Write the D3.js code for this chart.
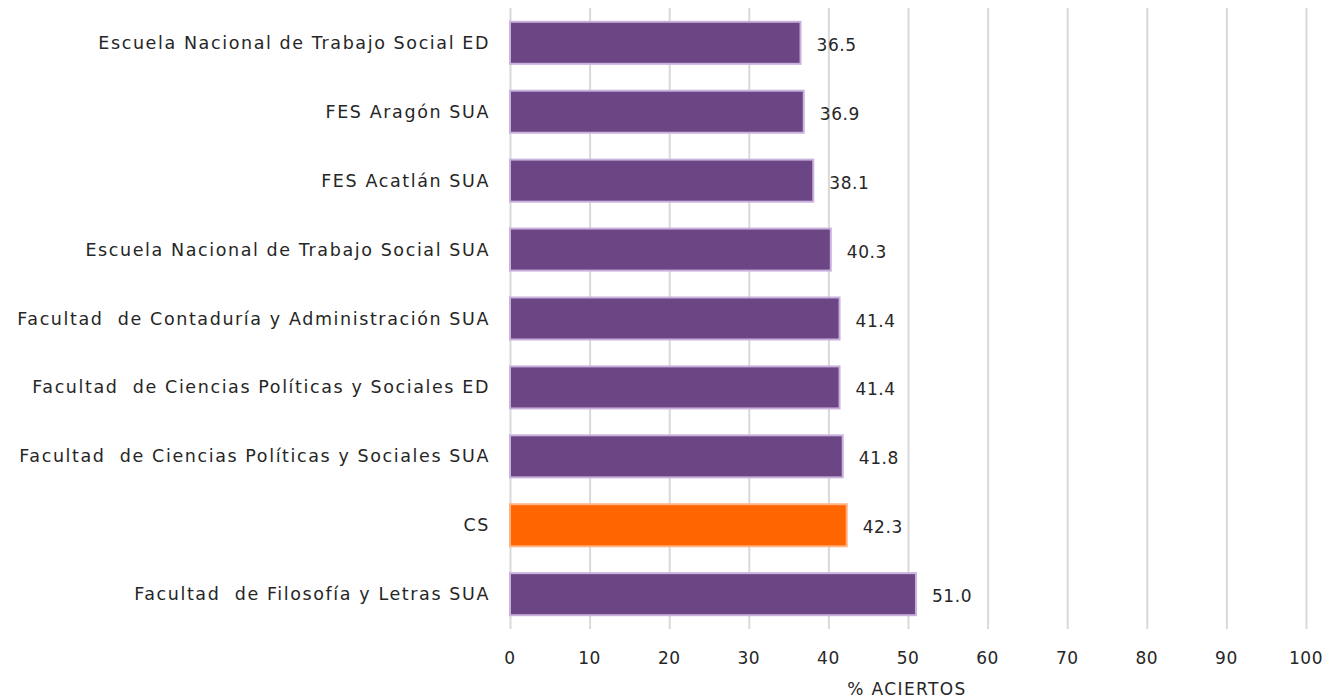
<!DOCTYPE html>
<html><head><meta charset="utf-8">
<script src="https://cdn.jsdelivr.net/npm/d3@7"></script>
<style>body{margin:0;background:#fff}text{font-family:"DejaVu Sans",sans-serif;fill:#262626}</style>
</head><body><svg id="c" width="1338" height="700"></svg>
<script>
const categories=["Escuela Nacional de Trabajo Social ED","FES Aragón SUA","FES Acatlán SUA","Escuela Nacional de Trabajo Social SUA","Facultad  de Contaduría y Administración SUA","Facultad  de Ciencias Políticas y Sociales ED","Facultad  de Ciencias Políticas y Sociales SUA","CS","Facultad  de Filosofía y Letras SUA"];
const values=[36.5,36.9,38.1,40.3,41.4,41.4,41.8,42.3,51.0];
const highlight=["CS"];
const ticks=[0,10,20,30,40,50,60,70,80,90,100];
const axisTitle="% ACIERTOS";

const svg=d3.select("#c");
const x=d3.scaleLinear().domain([0,100]).range([510,1306]);
const y=d3.scaleBand().domain(categories).range([8,629]).paddingInner(0.39).paddingOuter(0.2);

svg.append("g").selectAll("line").data(ticks).join("line")
 .attr("x1",d=>x(d)+0.5).attr("x2",d=>x(d)+0.5).attr("y1",8).attr("y2",629)
 .attr("stroke","#d9d9d9").attr("stroke-width",2);

svg.append("g").selectAll("rect").data(values).join("rect")
 .attr("x",x(0)).attr("y",(d,i)=>y(categories[i]))
 .attr("width",d=>x(d)-x(0)).attr("height",y.bandwidth())
 .attr("fill",(d,i)=>highlight.includes(categories[i])?"#ff6600":"#6b4584")
 .attr("stroke",(d,i)=>highlight.includes(categories[i])?"#ffb27f":"#c9b1dd")
 .attr("stroke-width",2);

svg.append("g").selectAll("text").data(values).join("text")
 .attr("x",d=>x(d)+16).attr("y",(d,i)=>y(categories[i])+y.bandwidth()/2+8)
 .attr("font-size",17).attr("letter-spacing",0.6).text(d=>d.toFixed(1));

svg.append("g").selectAll("text").data(categories).join("text")
 .attr("x",490).attr("y",d=>y(d)+y.bandwidth()/2+6)
 .attr("text-anchor","end")
 .attr("font-size",17.5).attr("letter-spacing",1.6).style("white-space","pre").text(d=>d);

svg.append("g").selectAll("text").data(ticks).join("text")
 .attr("x",d=>x(d)).attr("y",664).attr("text-anchor","middle")
 .attr("font-size",17).attr("letter-spacing",0.5).text(d=>d);

svg.append("text").attr("x",907).attr("y",695).attr("text-anchor","middle")
 .attr("font-size",17).attr("letter-spacing",1.4).text(axisTitle);
</script></body></html>
